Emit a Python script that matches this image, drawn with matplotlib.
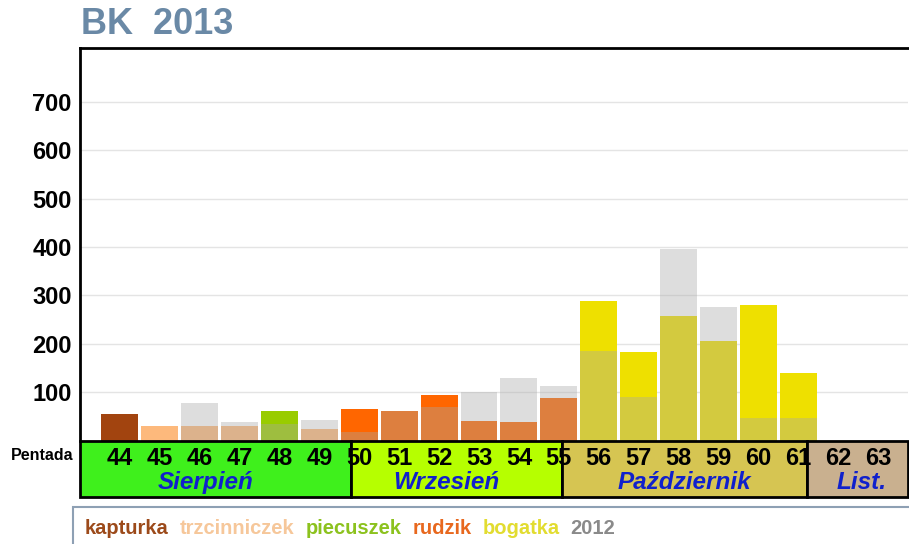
import numpy as np
import matplotlib.pyplot as plt
from matplotlib.patches import Rectangle
from matplotlib import font_manager

# pentads and counts
pentads = list(range(44, 64))
counts_2013 = [54, 30, 30, 30, 61, 23, 65, 61, 94, 40, 38, 88, 288, 183, 258, 206, 279, 139, 0, 0]
counts_2012 = [0, 0, 78, 39, 35, 43, 17, 61, 69, 100, 130, 112, 185, 90, 395, 275, 47, 47, 0, 0]
species_2013 = ['kapturka', 'trzcinniczek', 'trzcinniczek', 'trzcinniczek', 'piecuszek',
				'trzcinniczek', 'rudzik', 'rudzik', 'rudzik', 'rudzik', 'rudzik', 'rudzik',
				'bogatka', 'bogatka', 'bogatka', 'bogatka', 'bogatka', 'bogatka', None, None]

months = ['Sierpień', 'Wrzesień', 'Październik', 'List.']
month_edges = [43, 49.78, 55.08, 61.23, 63.75]
month_label_x = [46.15, 52.18, 58.15, 62.58]
month_colors = ['#3ff01c', '#b6ff00', '#d6c552', '#c9b08f']

legend_names = ['kapturka', 'trzcinniczek', 'piecuszek', 'rudzik', 'bogatka', '2012']
legend_colors = ['#9c4a1a', '#f6c79a', '#8cc21e', '#e8681e', '#e2dc30', '#8a8a8a']

bar_colors = {
	'kapturka': '#a2440f',
	'trzcinniczek': '#fdb97c',
	'piecuszek': '#99cc00',
	'rudzik': '#ff6600',
	'bogatka': '#eee000',
}

FONT = ['Liberation Sans', 'DejaVu Sans']

W, H = 909, 544
fig = plt.figure(figsize=(W / 100, H / 100), dpi=100)

def fx(px):
	return px / W

def fy(py):
	return 1 - py / H

# main plot
ax = fig.add_axes([fx(80), fy(440.5), fx(908 - 80), fy(48) - fy(440.5)])
xlim = (43, 63.75)
ax.set_xlim(*xlim)
ax.set_ylim(0, 811)

colors = [bar_colors[s] if s else 'none' for s in species_2013]
ax.bar(pentads, counts_2013, width=0.925, color=colors, zorder=2)
ax.bar(pentads, counts_2012, width=0.925, color='#a8a8a8', alpha=0.38, zorder=3)

ax.set_yticks([100, 200, 300, 400, 500, 600, 700])
ax.set_yticklabels([str(v) for v in ax.get_yticks()], fontsize=17, fontweight='bold', family=FONT)
ax.tick_params(axis='y', length=0, pad=6)
ax.set_xticks([])
ax.grid(axis='y', color='#e4e4e4', lw=1)
ax.set_axisbelow(True)
for side in ['right', 'bottom']:
	ax.spines[side].set_visible(False)
for side in ['left', 'top']:
	ax.spines[side].set_linewidth(2)
	ax.spines[side].set_color('black')

# month / pentad strip
ax2 = fig.add_axes([fx(80), fy(497), fx(908 - 80), fy(440.5) - fy(497)])
ax2.set_xlim(*xlim)
ax2.set_ylim(0, 1)
ax2.axis('off')
for i in range(len(months)):
	x0, x1 = month_edges[i], month_edges[i + 1]
	ax2.add_patch(Rectangle((x0, 0), x1 - x0, 1, facecolor=month_colors[i],
							edgecolor='black', lw=2, clip_on=False))
	ax2.text(month_label_x[i], 0.25, months[i], ha='center', va='center', fontsize=17.5,
			 fontweight='bold', style='italic', color='#1020cc', family=FONT)
for p in pentads:
	ax2.text(p, 0.69, str(p), ha='center', va='center', fontsize=17, fontweight='bold',
			 color='black', family=FONT)

fig.text(fx(42), fy(455), 'Pentada', ha='center', va='center', fontsize=11.5,
		 fontweight='bold', family=FONT)

# title
fig.text(fx(81), fy(25), 'BK  2013', ha='left', va='center', fontsize=26,
		 fontweight='bold', color='#6a89a6', family=FONT)

# legend box
fig.patches.append(Rectangle((fx(73), fy(560)), fx(900), fy(507) - fy(560),
							 transform=fig.transFigure, facecolor='white',
							 edgecolor='#8ea0b4', lw=1.5))

names = [f.name for f in font_manager.fontManager.ttflist]
leg_font = ['Liberation Sans Narrow'] if 'Liberation Sans Narrow' in names else FONT
leg_size = 16 if 'Liberation Sans Narrow' in names else 14.5
renderer = fig.canvas.get_renderer()
x = 85
for name, c in zip(legend_names, legend_colors):
	t = fig.text(fx(x), fy(529), name, ha='left', va='center', fontsize=leg_size,
				 fontweight='bold', color=c, family=leg_font)
	x += t.get_window_extent(renderer).width + 11

fig.savefig('out.png', dpi=100)
